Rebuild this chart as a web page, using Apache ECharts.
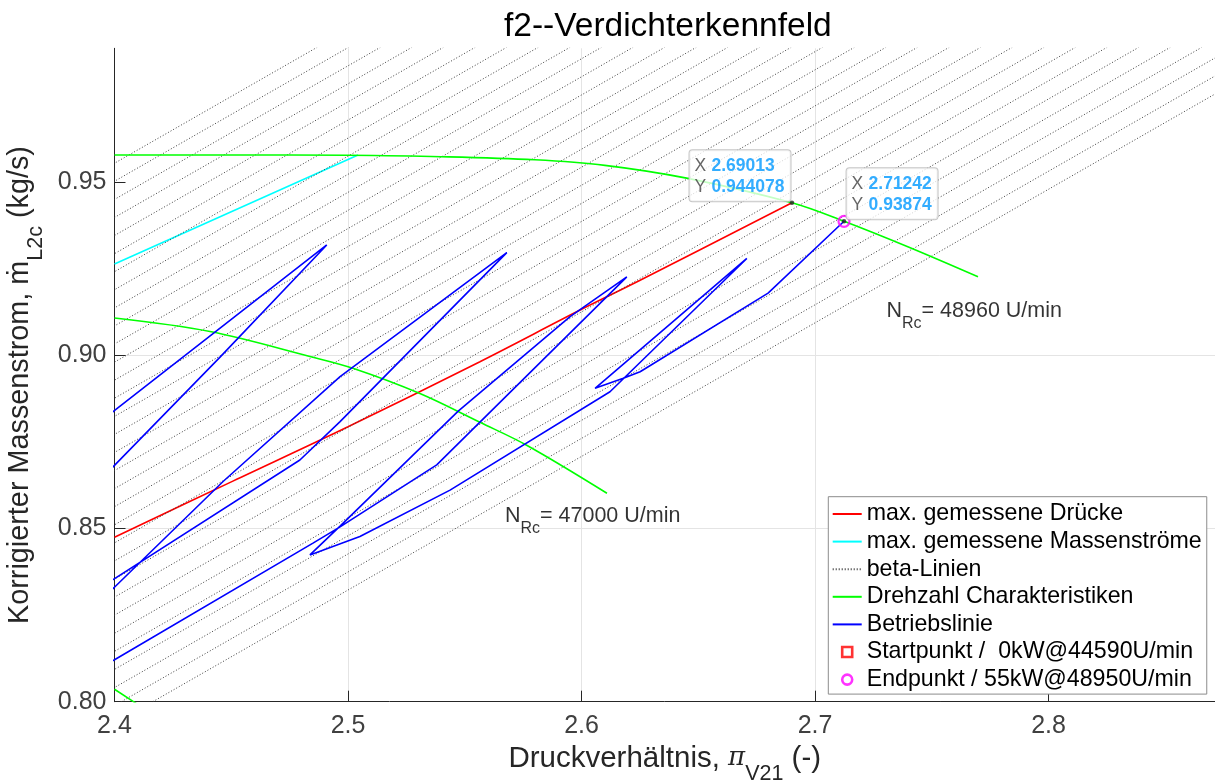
<!DOCTYPE html>
<html>
<head>
<meta charset="utf-8">
<script src="https://cdn.jsdelivr.net/npm/echarts@6/dist/echarts.min.js"></script>
<style>html,body{margin:0;padding:0;background:#fff}#c{width:1215px;height:782px}</style>
</head>
<body>
<div id="c"></div>
<script>
// ---------------- data ----------------
const xTicks = [2.4, 2.5, 2.6, 2.7, 2.8];
const yTicks = [0.80, 0.85, 0.90, 0.95];

// max. gemessene Drücke (red)
const redX = [2.40, 2.4507, 2.50, 2.5565, 2.5994, 2.6251, 2.69013];
const redY = [0.8475, 0.8637, 0.8794, 0.8982, 0.9131, 0.9217, 0.944078];

// max. gemessene Massenströme (cyan)
const cyanX = [2.40, 2.45, 2.5043];
const cyanY = [0.9264, 0.9415, 0.9579];

// Drehzahl Charakteristiken (green)
const n48960X = [2.40, 2.45, 2.50, 2.54, 2.58, 2.61, 2.645, 2.69013, 2.71242, 2.74, 2.7698];
const n48960Y = [0.9579, 0.9579, 0.9578, 0.9574, 0.9565, 0.9549, 0.9512, 0.944078, 0.93874, 0.9313, 0.9227];
const n47000X = [2.40, 2.4409, 2.4837, 2.5021, 2.5308, 2.5565, 2.5767, 2.6109];
const n47000Y = [0.9108, 0.9069, 0.8997, 0.8963, 0.8890, 0.8807, 0.8740, 0.8602];
const nLowX = [2.40, 2.4081, 2.415];
const nLowY = [0.8036, 0.8000, 0.7970];

// beta-Linien: x where each line meets m=0.80 and m=0.99
const betaBottomX = [1.9969, 2.0104, 2.0240, 2.0375, 2.0510, 2.0646, 2.0781, 2.0916, 2.1052, 2.1187,
  2.1322, 2.1458, 2.1593, 2.1728, 2.1864, 2.1999, 2.2134, 2.2270, 2.2405, 2.2540,
  2.2676, 2.2811, 2.2946, 2.3082, 2.3217, 2.3352, 2.3488, 2.3623, 2.3758, 2.3894,
  2.4029, 2.4164];
const betaTopX = [2.4894, 2.5029, 2.5165, 2.5300, 2.5435, 2.5571, 2.5706, 2.5841, 2.5977, 2.6112,
  2.6247, 2.6383, 2.6518, 2.6653, 2.6789, 2.6924, 2.7059, 2.7195, 2.7330, 2.7465,
  2.7601, 2.7736, 2.7871, 2.8007, 2.8142, 2.8277, 2.8413, 2.8548, 2.8683, 2.8819,
  2.8954, 2.9089];
const betaBottomY = 0.80, betaTopY = 0.99;

// Betriebslinie (blue), visible pieces
const blueAX = [2.3950, 2.4002, 2.4452, 2.4909, 2.4002, 2.3950];
const blueAY = [0.8647, 0.8684, 0.8995, 0.9319, 0.8842, 0.8815];
const blueBX = [2.3950, 2.4002, 2.4794, 2.4966, 2.5680, 2.4966, 2.4465, 2.4002, 2.3950];
const blueBY = [0.8334, 0.8356, 0.8698, 0.8809, 0.9297, 0.8939, 0.8636, 0.8332, 0.8297];
const blueCX = [2.3950, 2.4002, 2.4850, 2.4966, 2.5380, 2.6194, 2.5951, 2.5472, 2.4966, 2.4837,
  2.5051, 2.5437, 2.6122, 2.6708, 2.6058, 2.6179, 2.6251, 2.6799, 2.71242];
const blueCY = [0.8102, 0.8122, 0.8458, 0.8505, 0.8684, 0.9227, 0.9112, 0.8839, 0.8507, 0.8424,
  0.8477, 0.8611, 0.8895, 0.9280, 0.8905, 0.8934, 0.8953, 0.9180, 0.93874];

// markers
const startPoint = [];                 // lies outside the visible window
const endPoint = [[2.71242, 0.93874]];
const tipX = [2.69013, 2.71242];
const tipY = [0.944078, 0.93874];

// speed annotations
const speedNames = ['48960', '47000'];
const speedAnchorX = [2.7306, 2.5672];
const speedAnchorY = [0.91275, 0.85358];

// ---------------- chart ----------------
const FONT = '"Liberation Sans", Arial, Helvetica, sans-serif';
const pairs = (xs, ys) => xs.map((x, i) => [x, ys[i]]);

function lineSeries(name, data, color, width, extra) {
  return Object.assign({
    type: 'line', name: name, data: data, symbol: 'none', showSymbol: false,
    lineStyle: { color: color, width: width }, itemStyle: { color: color },
    clip: true, silent: true, animation: false, emphasis: { disabled: true }
  }, extra || {});
}
const smoothOpt = { smooth: 0.35 };

const series = [];
series.push(lineSeries('max. gemessene Drücke', pairs(redX, redY), '#ff0000', 1.6, smoothOpt));
series.push(lineSeries('max. gemessene Massenströme', pairs(cyanX, cyanY), '#00ffff', 1.6));
betaTopX.forEach((xt, i) => {
  series.push(lineSeries('beta-Linien', [[betaBottomX[i], betaBottomY], [xt, betaTopY]], '#3c3c3c', 1,
    { lineStyle: { color: '#3c3c3c', width: 1, type: [1, 2] } }));
});
series.push(lineSeries('Drehzahl Charakteristiken', pairs(n48960X, n48960Y), '#00ff00', 1.6, smoothOpt));
series.push(lineSeries('Drehzahl Charakteristiken', pairs(n47000X, n47000Y), '#00ff00', 1.6, smoothOpt));
series.push(lineSeries('Drehzahl Charakteristiken', pairs(nLowX, nLowY), '#00ff00', 1.6));
series.push(lineSeries('Betriebslinie', pairs(blueAX, blueAY), '#0000ff', 1.6));
series.push(lineSeries('Betriebslinie', pairs(blueBX, blueBY), '#0000ff', 1.6));
series.push(lineSeries('Betriebslinie', pairs(blueCX, blueCY), '#0000ff', 1.6));
series.push({
  type: 'scatter', name: 'Startpunkt /  0kW@44590U/min', data: startPoint, symbol: 'rect', symbolSize: 9,
  itemStyle: { color: '#ffffff', borderColor: '#ff0000', borderWidth: 2.5 }, silent: true, z: 5
});
series.push({
  type: 'scatter', name: 'Endpunkt / 55kW@48950U/min', data: endPoint, symbol: 'circle', symbolSize: 11,
  itemStyle: { color: 'rgba(255,255,255,0)', borderColor: '#ff00ff', borderWidth: 2.2 }, silent: true, z: 5
});

// speed labels
series.push({
  type: 'scatter', name: '_speed', data: pairs(speedAnchorX, speedAnchorY),
  symbolSize: 0, silent: true, z: 6,
  label: {
    show: true, position: [0, 0], align: 'left', verticalAlign: 'middle',
    formatter: (p) => '{n|N}{s|Rc}{n|= ' + speedNames[p.dataIndex] + ' U/min}',
    rich: {
      n: { fontFamily: FONT, fontSize: 21.5, color: '#000' },
      s: { fontFamily: FONT, fontSize: 16, color: '#000', padding: [24, 0, 0, 0] }
    }
  }
});

// data tips
const fmt = (v) => String(parseFloat(v.toPrecision(6)));
const tipRich = {
  k: { fontFamily: FONT, fontSize: 17.5, color: '#404040', lineHeight: 21, width: 17, align: 'left' },
  v0: { fontFamily: FONT, fontSize: 17.5, color: '#0099ff', fontWeight: 'bold', lineHeight: 21, width: 74, align: 'left' },
  v1: { fontFamily: FONT, fontSize: 17.5, color: '#0099ff', fontWeight: 'bold', lineHeight: 21, width: 64, align: 'left' }
};
const tipLabelBase = {
  show: true, backgroundColor: 'rgba(255,255,255,0.96)', borderColor: '#b8b8b8', borderWidth: 1,
  borderRadius: 3, padding: [5, 5, 4, 5], rich: tipRich,
  formatter: (p) => '{k|X}{v' + p.dataIndex + '|' + fmt(p.value[0]) + '}\n{k|Y}{v' + p.dataIndex + '|' + fmt(p.value[1]) + '}'
};
series.push({
  type: 'scatter', name: '_tips', symbol: 'circle', symbolSize: 4.5, z: 10, silent: true,
  itemStyle: { color: '#262626' },
  data: [
    { value: [tipX[0], tipY[0]], label: Object.assign({}, tipLabelBase, { position: [0.8, 0.8], align: 'right', verticalAlign: 'bottom' }) },
    { value: [tipX[1], tipY[1]], label: Object.assign({}, tipLabelBase, { position: [4.8, 0.3], align: 'left', verticalAlign: 'bottom' }) }
  ]
});

const axisColor = '#262626';
const option = {
  animation: false,
  backgroundColor: '#ffffff',
  textStyle: { fontFamily: FONT },
  title: {
    text: 'f2--Verdichterkennfeld', left: 499, top: 5,
    textStyle: { fontFamily: FONT, fontSize: 33.5, fontWeight: 'normal', color: '#000' }
  },
  grid: { left: 114.5, right: 0, top: 48.3, bottom: 80.3, containLabel: false, outerBoundsMode: 'none' },
  legend: {
    orient: 'vertical', left: 828.3, top: 496.7,
    backgroundColor: '#ffffff', borderColor: '#8c8c8c', borderWidth: 1, borderRadius: 0,
    padding: [5.8, 5, 3.0, 3.4], itemWidth: 29, itemHeight: 10, itemGap: 4.6,
    selectedMode: false, symbolKeepAspect: true,
    textStyle: { fontFamily: FONT, fontSize: 23.2, color: '#000' },
    data: [
      { name: 'max. gemessene Drücke', itemStyle: { opacity: 0 } },
      { name: 'max. gemessene Massenströme', itemStyle: { opacity: 0 } },
      { name: 'beta-Linien', itemStyle: { opacity: 0 } },
      { name: 'Drehzahl Charakteristiken', itemStyle: { opacity: 0 } },
      { name: 'Betriebslinie', itemStyle: { opacity: 0 } },
      { name: 'Startpunkt /  0kW@44590U/min', icon: 'path://M0,0L10,0L10,10L0,10Z',
        itemStyle: { color: '#ffffff', borderColor: '#ff0000', borderWidth: 2.6 } },
      { name: 'Endpunkt / 55kW@48950U/min', icon: 'circle',
        itemStyle: { color: '#ffffff', borderColor: '#ff00ff', borderWidth: 2.6 } }
    ]
  },
  xAxis: {
    type: 'value', min: 2.4, max: 2.8713, interval: 0.1,
    axisLine: { show: true, onZero: false, lineStyle: { color: axisColor, width: 1 } },
    axisTick: { show: true, inside: true, length: 11, customValues: xTicks, lineStyle: { color: axisColor } },
    axisLabel: { show: true, customValues: xTicks, margin: 12, fontSize: 25, color: '#404040', fontFamily: FONT,
      formatter: (v) => v.toFixed(1) },
    splitLine: { show: true, showMinLine: false, showMaxLine: false, lineStyle: { color: '#e4e4e4', width: 1 } },
    name: '{t|Druckverhältnis, }{p|π}{s|V21}{t| (-)}',
    nameLocation: 'middle', nameGap: 27,
    nameTextStyle: {
      rich: {
        t: { fontFamily: FONT, fontSize: 29.5, color: '#262626' },
        p: { fontFamily: '"DejaVu Serif", "Liberation Serif", serif', fontStyle: 'italic', fontSize: 26, color: '#262626' },
        s: { fontFamily: FONT, fontSize: 21.5, color: '#262626', padding: [30, 0, 0, 0] }
      }
    }
  },
  yAxis: {
    type: 'value', min: 0.8, max: 0.9887, interval: 0.05,
    axisLine: { show: true, onZero: false, lineStyle: { color: axisColor, width: 1 } },
    axisTick: { show: true, inside: true, length: 11, customValues: yTicks, lineStyle: { color: axisColor } },
    axisLabel: { show: true, customValues: yTicks, margin: 8, fontSize: 25, color: '#404040', fontFamily: FONT,
      formatter: (v) => v.toFixed(2) },
    splitLine: { show: true, showMinLine: false, showMaxLine: false, lineStyle: { color: '#e4e4e4', width: 1 } },
    name: '{t|Korrigierter Massenstrom, ṁ}{s|L2c}{t| (kg/s)}',
    nameLocation: 'middle', nameGap: 58, nameRotate: 90,
    nameTextStyle: {
      padding: [0, 20, 0, 0],
      rich: {
        t: { fontFamily: FONT, fontSize: 28.8, color: '#262626' },
        s: { fontFamily: FONT, fontSize: 21.5, color: '#262626', padding: [32, 0, 0, 0] }
      }
    }
  },
  series: series
};

const chart = echarts.init(document.getElementById('c'), null, { renderer: 'canvas' });
chart.setOption(option);
</script>
</body>
</html>
